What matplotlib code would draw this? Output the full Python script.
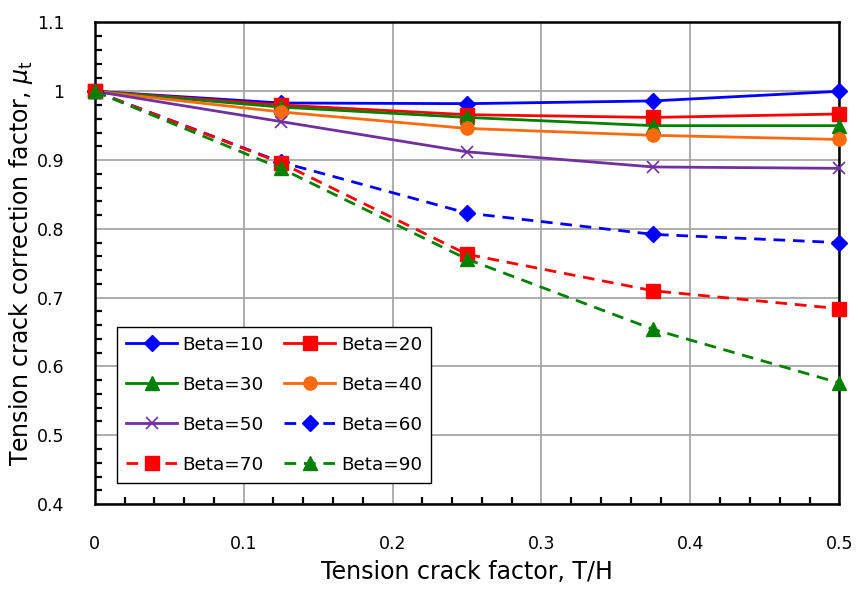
import matplotlib
matplotlib.use("Agg")
import matplotlib.pyplot as plt
from matplotlib.ticker import MultipleLocator

plt.rcParams['font.family'] = ['DejaVu Sans']
plt.rcParams['mathtext.fontset'] = 'dejavusans'

# Tension crack factor T/H
tension_factor = [0.0, 0.125, 0.25, 0.375, 0.5]

# Correction factor for each slope angle
beta_10 = [1.000, 0.983, 0.982, 0.986, 1.000]
beta_20 = [1.000, 0.980, 0.966, 0.962, 0.967]
beta_30 = [1.000, 0.977, 0.962, 0.950, 0.950]
beta_40 = [1.000, 0.970, 0.946, 0.936, 0.930]
beta_50 = [1.000, 0.956, 0.912, 0.890, 0.888]
beta_60 = [1.000, 0.897, 0.823, 0.792, 0.780]
beta_70 = [1.000, 0.896, 0.763, 0.710, 0.684]
beta_90 = [1.000, 0.888, 0.756, 0.654, 0.576]

labels = ["Beta=10", "Beta=20", "Beta=30", "Beta=40",
          "Beta=50", "Beta=60", "Beta=70", "Beta=90"]

x_ticks = [0, 0.1, 0.2, 0.3, 0.4, 0.5]
x_tick_labels = ["0", "0.1", "0.2", "0.3", "0.4", "0.5"]
y_ticks = [0.4, 0.5, 0.6, 0.7, 0.8, 0.9, 1.0, 1.1]
y_tick_labels = ["0.4", "0.5", "0.6", "0.7", "0.8", "0.9", "1", "1.1"]

series = [beta_10, beta_20, beta_30, beta_40, beta_50, beta_60, beta_70, beta_90]
styles = [
    dict(color="#0000FF", marker="D", ms=8.5, ls="-"),
    dict(color="#FF0000", marker="s", ms=9.5, ls="-"),
    dict(color="#008000", marker="^", ms=10, ls="-"),
    dict(color="#FF6A0E", marker="o", ms=9.5, ls="-"),
    dict(color="#7030A0", marker="x", ms=9, ls="-", mew=1.2),
    dict(color="#0000FF", marker="D", ms=8.5, ls="--"),
    dict(color="#FF0000", marker="s", ms=9.5, ls="--"),
    dict(color="#008000", marker="^", ms=10, ls="--"),
]

fig = plt.figure(figsize=(8.58, 5.92), dpi=100)
ax = fig.add_axes([0.1104, 0.1486, 0.8678, 0.8134])

handles = []
for vals, lab, st in zip(series, labels, styles):
    kw = dict(st)
    ls = kw.pop("ls")
    line, = ax.plot(tension_factor, vals, label=lab, lw=2.0,
                    linestyle=ls, clip_on=False, zorder=3, **kw)
    if ls == "--":
        line.set_dashes((4.2, 2.8))
    handles.append(line)

ax.set_xlim(0, 0.5)
ax.set_ylim(0.4, 1.1)
ax.set_xticks(x_ticks)
ax.set_xticklabels(x_tick_labels)
ax.set_yticks(y_ticks)
ax.set_yticklabels(y_tick_labels)
ax.xaxis.set_minor_locator(MultipleLocator(0.02))
ax.yaxis.set_minor_locator(MultipleLocator(0.02))

ax.grid(True, which="major", color="#A0A0A0", lw=1.2, zorder=0)
ax.set_axisbelow(True)

ax.tick_params(axis="both", which="both", direction="in", top=False, right=False,
               labelsize=12.5, width=1.6, color="black")
ax.tick_params(axis="both", which="major", length=0)
ax.tick_params(axis="both", which="minor", length=5)
ax.tick_params(axis="x", which="major", pad=22)
ax.tick_params(axis="y", which="major", pad=22)

for sp in ax.spines.values():
    sp.set_color("black")
    sp.set_linewidth(1.8)

ax.set_xlabel("Tension crack factor, T/H", fontsize=17, labelpad=5)
ax.set_ylabel(r"Tension crack correction factor, $\mu_\mathrm{t}$", fontsize=17,
              labelpad=1)

# legend entries read row by row in two columns
order = [0, 2, 4, 6, 1, 3, 5, 7]
leg = ax.legend([handles[i] for i in order], [labels[i] for i in order],
                ncol=2, loc="lower left", bbox_to_anchor=(0.0295, 0.0436),
                borderaxespad=0, fontsize=13.2, handlelength=2.8, handletextpad=0.3,
                columnspacing=1.1, labelspacing=1.2, borderpad=0.5,
                fancybox=False, framealpha=1, edgecolor="black")
leg.get_frame().set_linewidth(1.0)

fig.savefig("out.png", dpi=100)
